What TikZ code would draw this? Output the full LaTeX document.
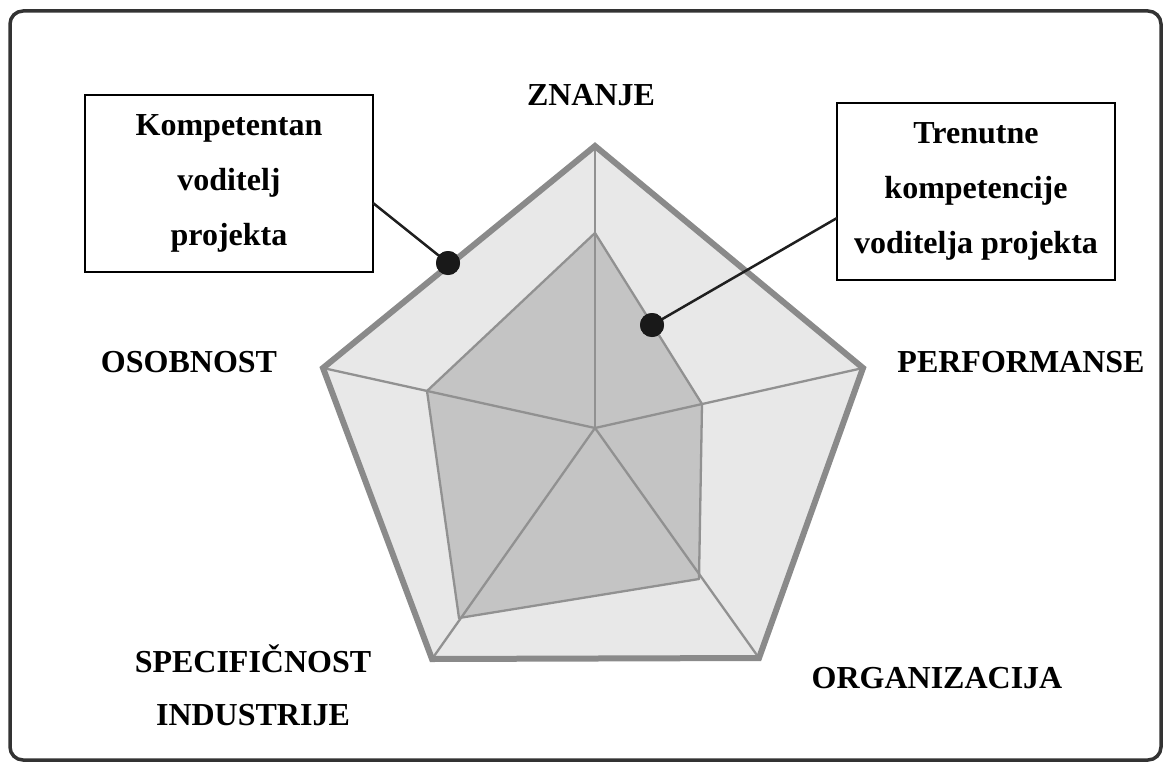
\documentclass[tikz,border=0pt]{standalone}
\usepackage{fontspec}
\setmainfont{Liberation Serif}
\begin{document}
\begin{tikzpicture}[x=1pt,y=-1pt,
  lbl/.style={font=\fontsize{32}{37}\selectfont\bfseries, anchor=base, inner sep=0pt},
  callout/.style={draw=black, line width=1.4pt, fill=white, align=center,
    font=\fontsize{32}{55}\selectfont\bfseries, inner sep=0pt},
  spoke/.style={draw=black!43, line width=2.3pt},
  dotmark/.style={circle, fill=black!90, inner sep=0pt, minimum size=24pt},
  lead/.style={draw=black!88, line width=2.5pt}]
\useasboundingbox (0,0) rectangle (1169,768);
\draw[black!80, line width=3.5pt, rounded corners=13pt] (10,11) rectangle (1161,760);
% coordinates
\coordinate (C) at (595,428);
\coordinate (O1) at (595,146);
\coordinate (O2) at (863,368);
\coordinate (O3) at (759,658);
\coordinate (O4) at (432,659);
\coordinate (O5) at (323,368);
\coordinate (I1) at (595,233);
\coordinate (I2) at (702,404);
\coordinate (I3) at (699,579);
\coordinate (I4) at (459,618);
\coordinate (I5) at (427,391);
% outer fill
\fill[black!9] (O1) -- (O2) -- (O3) -- (O4) -- (O5) -- cycle;
% inner polygon
\filldraw[fill=black!23, spoke, line join=round] (I1) -- (I2) -- (I3) -- (I4) -- (I5) -- cycle;
% spokes
\foreach \p in {O1,O2,O3,O4,O5} \draw[spoke] (C) -- (\p);
% outer stroke
\draw[draw=black!46, line width=6pt, line join=miter] (O1) -- (O2) -- (O3) -- (O4) -- (O5) -- cycle;
% labels
\node[lbl] (znanje) at (591,105) {ZNANJE};
\node[lbl] (osobnost) at (189,372) {OSOBNOST};
\node[lbl] (perf) at (1021,372) {PERFORMANSE};
\node[lbl] (spec) at (253,672) {SPECIFIČNOST};
\node[lbl] (ind) at (253,725) {INDUSTRIJE};
\node[lbl] (org) at (937,688) {ORGANIZACIJA};
% callouts
\node[callout, minimum width=288pt, minimum height=177pt] (box1) at (229,183.5)
  {Kompetentan\\voditelj\\projekta};
\node[callout, minimum width=278pt, minimum height=177pt] (box2) at (976,191.5)
  {Trenutne\\kompetencije\\voditelja projekta};
\node[dotmark] (dot1) at (448,263) {};
\node[dotmark] (dot2) at (652,325) {};
\coordinate (a1) at (373,203);
\coordinate (a2) at (837,218);
\draw[lead] (a1) -- (dot1.center);
\draw[lead] (a2) -- (dot2.center);
\node[dotmark] at (dot1) {};
\node[dotmark] at (dot2) {};
\end{tikzpicture}
\end{document}
